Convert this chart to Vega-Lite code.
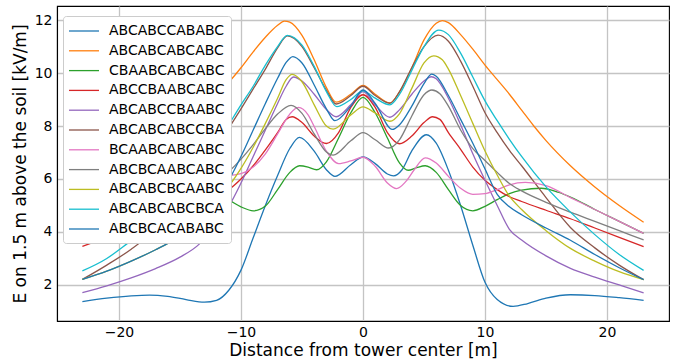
{
  "$schema": "https://vega.github.io/schema/vega-lite/v6.json",
  "width": 612,
  "height": 315,
  "autosize": {"type": "none"},
  "padding": {"left": 57, "top": 6, "right": 13, "bottom": 41},
  "background": "white",
  "config": {
    "font": "DejaVu Sans",
    "view": {"stroke": "black", "strokeWidth": 1.1},
    "axis": {
      "labelFont": "DejaVu Sans", "titleFont": "DejaVu Sans",
      "labelFontSize": 14, "titleFontSize": 17, "titleFontWeight": "normal",
      "labelColor": "black", "titleColor": "black",
      "domainColor": "black", "domainWidth": 1.1,
      "ticks": false, "grid": true, "gridColor": "#c4c4c4", "gridWidth": 1.3
    }
  },
  "data": {"values": [
    {"s":"ABCABCCABABC","x":-23,"y":1.37},{"s":"ABCABCCABABC","x":-21,"y":1.5},{"s":"ABCABCCABABC","x":-19,"y":1.59},{"s":"ABCABCCABABC","x":-17.5,"y":1.62},{"s":"ABCABCCABABC","x":-16,"y":1.57},{"s":"ABCABCCABABC","x":-14.5,"y":1.45},{"s":"ABCABCCABABC","x":-13,"y":1.35},{"s":"ABCABCCABABC","x":-12,"y":1.42},{"s":"ABCABCCABABC","x":-11,"y":1.8},{"s":"ABCABCCABABC","x":-10,"y":2.56},{"s":"ABCABCCABABC","x":-9,"y":3.78},{"s":"ABCABCCABABC","x":-8,"y":5.0},{"s":"ABCABCCABABC","x":-7,"y":6.13},{"s":"ABCABCCABABC","x":-6,"y":7.15},{"s":"ABCABCCABABC","x":-5.2,"y":7.57},{"s":"ABCABCCABABC","x":-4,"y":7.05},{"s":"ABCABCCABABC","x":-3,"y":6.35},{"s":"ABCABCCABABC","x":-2.3,"y":6.1},{"s":"ABCABCCABABC","x":-1,"y":6.54},{"s":"ABCABCCABABC","x":0,"y":6.83},{"s":"ABCABCCABABC","x":1,"y":6.58},{"s":"ABCABCCABABC","x":2,"y":6.19},{"s":"ABCABCCABABC","x":2.5,"y":6.12},{"s":"ABCABCCABABC","x":3.2,"y":6.35},{"s":"ABCABCCABABC","x":4,"y":7.06},{"s":"ABCABCCABABC","x":5.2,"y":7.67},{"s":"ABCABCCABABC","x":6,"y":7.35},{"s":"ABCABCCABABC","x":7,"y":6.33},{"s":"ABCABCCABABC","x":8,"y":5.0},{"s":"ABCABCCABABC","x":9,"y":3.5},{"s":"ABCABCCABABC","x":10,"y":2.1},{"s":"ABCABCCABABC","x":11,"y":1.45},{"s":"ABCABCCABABC","x":12.3,"y":1.19},{"s":"ABCABCCABABC","x":13.5,"y":1.3},{"s":"ABCABCCABABC","x":15,"y":1.5},{"s":"ABCABCCABABC","x":17,"y":1.63},{"s":"ABCABCCABABC","x":19,"y":1.6},{"s":"ABCABCCABABC","x":21,"y":1.52},{"s":"ABCABCCABABC","x":23,"y":1.42},

    {"s":"ABCABCABCABC","x":-23,"y":4.37},{"s":"ABCABCABCABC","x":-21,"y":5.0},{"s":"ABCABCABCABC","x":-19,"y":5.7},{"s":"ABCABCABCABC","x":-17,"y":6.5},{"s":"ABCABCABCABC","x":-15,"y":7.45},{"s":"ABCABCABCABC","x":-13,"y":8.6},{"s":"ABCABCABCABC","x":-12,"y":9.15},{"s":"ABCABCABCABC","x":-11,"y":9.65},{"s":"ABCABCABCABC","x":-10,"y":10.2},{"s":"ABCABCABCABC","x":-9,"y":10.8},{"s":"ABCABCABCABC","x":-8,"y":11.35},{"s":"ABCABCABCABC","x":-7,"y":11.8},{"s":"ABCABCABCABC","x":-6.45,"y":11.96},{"s":"ABCABCABCABC","x":-6,"y":11.92},{"s":"ABCABCABCABC","x":-5,"y":11.42},{"s":"ABCABCABCABC","x":-4,"y":10.5},{"s":"ABCABCABCABC","x":-3,"y":9.45},{"s":"ABCABCABCABC","x":-2.2,"y":8.9},{"s":"ABCABCABCABC","x":-1,"y":9.2},{"s":"ABCABCABCABC","x":0,"y":9.53},{"s":"ABCABCABCABC","x":1,"y":9.2},{"s":"ABCABCABCABC","x":2.2,"y":8.87},{"s":"ABCABCABCABC","x":3,"y":9.3},{"s":"ABCABCABCABC","x":4,"y":10.2},{"s":"ABCABCABCABC","x":5,"y":11.25},{"s":"ABCABCABCABC","x":6,"y":11.88},{"s":"ABCABCABCABC","x":6.5,"y":11.98},{"s":"ABCABCABCABC","x":7,"y":11.9},{"s":"ABCABCABCABC","x":8,"y":11.45},{"s":"ABCABCABCABC","x":9,"y":10.9},{"s":"ABCABCABCABC","x":10,"y":10.3},{"s":"ABCABCABCABC","x":11,"y":9.75},{"s":"ABCABCABCABC","x":12,"y":9.2},{"s":"ABCABCABCABC","x":13,"y":8.6},{"s":"ABCABCABCABC","x":14,"y":8.0},{"s":"ABCABCABCABC","x":15,"y":7.45},{"s":"ABCABCABCABC","x":17,"y":6.5},{"s":"ABCABCABCABC","x":19,"y":5.7},{"s":"ABCABCABCABC","x":21,"y":5.0},{"s":"ABCABCABCABC","x":23,"y":4.37},

    {"s":"CBAABCABCABC","x":-23,"y":3.95},{"s":"CBAABCABCABC","x":-21,"y":4.5},{"s":"CBAABCABCABC","x":-19,"y":5.05},{"s":"CBAABCABCABC","x":-17,"y":5.45},{"s":"CBAABCABCABC","x":-15,"y":5.62},{"s":"CBAABCABCABC","x":-13.5,"y":5.55},{"s":"CBAABCABCABC","x":-12,"y":5.35},{"s":"CBAABCABCABC","x":-11,"y":5.2},{"s":"CBAABCABCABC","x":-10,"y":4.95},{"s":"CBAABCABCABC","x":-9,"y":4.8},{"s":"CBAABCABCABC","x":-8,"y":4.98},{"s":"CBAABCABCABC","x":-7,"y":5.6},{"s":"CBAABCABCABC","x":-6,"y":6.25},{"s":"CBAABCABCABC","x":-5.2,"y":6.5},{"s":"CBAABCABCABC","x":-4.5,"y":6.45},{"s":"CBAABCABCABC","x":-3.8,"y":6.35},{"s":"CBAABCABCABC","x":-3,"y":6.65},{"s":"CBAABCABCABC","x":-2,"y":7.55},{"s":"CBAABCABCABC","x":-1,"y":8.5},{"s":"CBAABCABCABC","x":0,"y":9.08},{"s":"CBAABCABCABC","x":1,"y":8.5},{"s":"CBAABCABCABC","x":2,"y":7.55},{"s":"CBAABCABCABC","x":3,"y":6.6},{"s":"CBAABCABCABC","x":3.7,"y":6.33},{"s":"CBAABCABCABC","x":4.4,"y":6.43},{"s":"CBAABCABCABC","x":5.1,"y":6.5},{"s":"CBAABCABCABC","x":6,"y":6.25},{"s":"CBAABCABCABC","x":7,"y":5.6},{"s":"CBAABCABCABC","x":8,"y":5.0},{"s":"CBAABCABCABC","x":9,"y":4.8},{"s":"CBAABCABCABC","x":10,"y":4.97},{"s":"CBAABCABCABC","x":11,"y":5.22},{"s":"CBAABCABCABC","x":12,"y":5.45},{"s":"CBAABCABCABC","x":13,"y":5.58},{"s":"CBAABCABCABC","x":14.6,"y":5.65},{"s":"CBAABCABCABC","x":16,"y":5.5},{"s":"CBAABCABCABC","x":17,"y":5.32},{"s":"CBAABCABCABC","x":19,"y":4.85},{"s":"CBAABCABCABC","x":21,"y":4.4},{"s":"CBAABCABCABC","x":23,"y":3.95},

    {"s":"ABCCBAABCABC","x":-23,"y":3.46},{"s":"ABCCBAABCABC","x":-21,"y":3.8},{"s":"ABCCBAABCABC","x":-19,"y":4.15},{"s":"ABCCBAABCABC","x":-17,"y":4.5},{"s":"ABCCBAABCABC","x":-15,"y":4.8},{"s":"ABCCBAABCABC","x":-13,"y":5.15},{"s":"ABCCBAABCABC","x":-12,"y":5.35},{"s":"ABCCBAABCABC","x":-11,"y":5.6},{"s":"ABCCBAABCABC","x":-10,"y":6.0},{"s":"ABCCBAABCABC","x":-9,"y":6.5},{"s":"ABCCBAABCABC","x":-8,"y":7.1},{"s":"ABCCBAABCABC","x":-7,"y":7.75},{"s":"ABCCBAABCABC","x":-6.3,"y":8.25},{"s":"ABCCBAABCABC","x":-5.8,"y":8.35},{"s":"ABCCBAABCABC","x":-5,"y":8.13},{"s":"ABCCBAABCABC","x":-4,"y":7.62},{"s":"ABCCBAABCABC","x":-3,"y":7.34},{"s":"ABCCBAABCABC","x":-2,"y":7.75},{"s":"ABCCBAABCABC","x":-1,"y":8.7},{"s":"ABCCBAABCABC","x":0,"y":9.18},{"s":"ABCCBAABCABC","x":1,"y":8.7},{"s":"ABCCBAABCABC","x":2,"y":7.75},{"s":"ABCCBAABCABC","x":3,"y":7.33},{"s":"ABCCBAABCABC","x":4,"y":7.62},{"s":"ABCCBAABCABC","x":5,"y":8.13},{"s":"ABCCBAABCABC","x":5.7,"y":8.35},{"s":"ABCCBAABCABC","x":6.3,"y":8.25},{"s":"ABCCBAABCABC","x":7,"y":7.75},{"s":"ABCCBAABCABC","x":8,"y":7.12},{"s":"ABCCBAABCABC","x":9,"y":6.45},{"s":"ABCCBAABCABC","x":10,"y":5.95},{"s":"ABCCBAABCABC","x":11,"y":5.6},{"s":"ABCCBAABCABC","x":12,"y":5.33},{"s":"ABCCBAABCABC","x":13,"y":5.15},{"s":"ABCCBAABCABC","x":15,"y":4.82},{"s":"ABCCBAABCABC","x":17,"y":4.5},{"s":"ABCCBAABCABC","x":19,"y":4.15},{"s":"ABCCBAABCABC","x":21,"y":3.8},{"s":"ABCCBAABCABC","x":23,"y":3.45},

    {"s":"ABCABCCBAABC","x":-23,"y":1.71},{"s":"ABCABCCBAABC","x":-21,"y":1.97},{"s":"ABCABCCBAABC","x":-19,"y":2.27},{"s":"ABCABCCBAABC","x":-17,"y":2.62},{"s":"ABCABCCBAABC","x":-15,"y":3.05},{"s":"ABCABCCBAABC","x":-13.4,"y":3.55},{"s":"ABCABCCBAABC","x":-12,"y":4.35},{"s":"ABCABCCBAABC","x":-11,"y":4.97},{"s":"ABCABCCBAABC","x":-10,"y":5.85},{"s":"ABCABCCBAABC","x":-9,"y":6.85},{"s":"ABCABCCBAABC","x":-8,"y":7.85},{"s":"ABCABCCBAABC","x":-7,"y":8.85},{"s":"ABCABCCBAABC","x":-6.3,"y":9.5},{"s":"ABCABCCBAABC","x":-5.7,"y":9.85},{"s":"ABCABCCBAABC","x":-5,"y":9.7},{"s":"ABCABCCBAABC","x":-4,"y":9.2},{"s":"ABCABCCBAABC","x":-3,"y":8.62},{"s":"ABCABCCBAABC","x":-2.2,"y":8.35},{"s":"ABCABCCBAABC","x":-1,"y":8.8},{"s":"ABCABCCBAABC","x":0,"y":9.3},{"s":"ABCABCCBAABC","x":1,"y":8.8},{"s":"ABCABCCBAABC","x":2.2,"y":8.33},{"s":"ABCABCCBAABC","x":3,"y":8.62},{"s":"ABCABCCBAABC","x":4,"y":9.2},{"s":"ABCABCCBAABC","x":5,"y":9.7},{"s":"ABCABCCBAABC","x":5.6,"y":9.86},{"s":"ABCABCCBAABC","x":6,"y":9.78},{"s":"ABCABCCBAABC","x":7,"y":9.05},{"s":"ABCABCCBAABC","x":8,"y":8.05},{"s":"ABCABCCBAABC","x":9,"y":6.95},{"s":"ABCABCCBAABC","x":10,"y":5.95},{"s":"ABCABCCBAABC","x":11,"y":5.0},{"s":"ABCABCCBAABC","x":12,"y":4.1},{"s":"ABCABCCBAABC","x":13,"y":3.7},{"s":"ABCABCCBAABC","x":15,"y":3.1},{"s":"ABCABCCBAABC","x":17,"y":2.63},{"s":"ABCABCCBAABC","x":19,"y":2.3},{"s":"ABCABCCBAABC","x":21,"y":2.0},{"s":"ABCABCCBAABC","x":23,"y":1.7},

    {"s":"ABCABCABCCBA","x":-23,"y":2.21},{"s":"ABCABCABCCBA","x":-21,"y":2.75},{"s":"ABCABCABCCBA","x":-19,"y":3.35},{"s":"ABCABCABCCBA","x":-17,"y":4.1},{"s":"ABCABCABCCBA","x":-15,"y":5.2},{"s":"ABCABCABCCBA","x":-13,"y":6.4},{"s":"ABCABCABCCBA","x":-12,"y":7.1},{"s":"ABCABCABCCBA","x":-11,"y":7.91},{"s":"ABCABCABCCBA","x":-10,"y":8.65},{"s":"ABCABCABCCBA","x":-9,"y":9.4},{"s":"ABCABCABCCBA","x":-8,"y":10.15},{"s":"ABCABCABCCBA","x":-7,"y":10.95},{"s":"ABCABCABCCBA","x":-6.2,"y":11.4},{"s":"ABCABCABCCBA","x":-5,"y":11.0},{"s":"ABCABCABCCBA","x":-4,"y":10.2},{"s":"ABCABCABCCBA","x":-3,"y":9.35},{"s":"ABCABCABCCBA","x":-2.2,"y":8.83},{"s":"ABCABCABCCBA","x":-1,"y":9.15},{"s":"ABCABCABCCBA","x":0,"y":9.5},{"s":"ABCABCABCCBA","x":1,"y":9.15},{"s":"ABCABCABCCBA","x":2.2,"y":8.86},{"s":"ABCABCABCCBA","x":3,"y":9.3},{"s":"ABCABCABCCBA","x":4,"y":10.2},{"s":"ABCABCABCCBA","x":5,"y":11.0},{"s":"ABCABCABCCBA","x":6.15,"y":11.43},{"s":"ABCABCABCCBA","x":7,"y":11.2},{"s":"ABCABCABCCBA","x":8,"y":10.45},{"s":"ABCABCABCCBA","x":9,"y":9.5},{"s":"ABCABCABCCBA","x":10,"y":8.5},{"s":"ABCABCABCCBA","x":11,"y":7.75},{"s":"ABCABCABCCBA","x":12,"y":7.08},{"s":"ABCABCABCCBA","x":13,"y":6.5},{"s":"ABCABCABCCBA","x":15,"y":5.3},{"s":"ABCABCABCCBA","x":17,"y":4.17},{"s":"ABCABCABCCBA","x":19,"y":3.4},{"s":"ABCABCABCCBA","x":21,"y":2.75},{"s":"ABCABCABCCBA","x":23,"y":2.2},

    {"s":"BCAABCABCABC","x":-23,"y":3.95},{"s":"BCAABCABCABC","x":-21,"y":4.45},{"s":"BCAABCABCABC","x":-19,"y":4.95},{"s":"BCAABCABCABC","x":-17,"y":5.45},{"s":"BCAABCABCABC","x":-15,"y":5.85},{"s":"BCAABCABCABC","x":-13,"y":6.1},{"s":"BCAABCABCABC","x":-12,"y":6.15},{"s":"BCAABCABCABC","x":-11,"y":6.14},{"s":"BCAABCABCABC","x":-10,"y":6.2},{"s":"BCAABCABCABC","x":-9,"y":6.45},{"s":"BCAABCABCABC","x":-8,"y":6.95},{"s":"BCAABCABCABC","x":-7,"y":7.7},{"s":"BCAABCABCABC","x":-6,"y":8.45},{"s":"BCAABCABCABC","x":-5.3,"y":8.7},{"s":"BCAABCABCABC","x":-4.5,"y":8.42},{"s":"BCAABCABCABC","x":-4,"y":7.98},{"s":"BCAABCABCABC","x":-3,"y":7.05},{"s":"BCAABCABCABC","x":-2,"y":6.58},{"s":"BCAABCABCABC","x":-1,"y":6.68},{"s":"BCAABCABCABC","x":0,"y":6.82},{"s":"BCAABCABCABC","x":1,"y":6.48},{"s":"BCAABCABCABC","x":2,"y":5.85},{"s":"BCAABCABCABC","x":2.75,"y":5.64},{"s":"BCAABCABCABC","x":3.5,"y":5.9},{"s":"BCAABCABCABC","x":4.2,"y":6.35},{"s":"BCAABCABCABC","x":5.1,"y":6.8},{"s":"BCAABCABCABC","x":6,"y":6.6},{"s":"BCAABCABCABC","x":7,"y":6.1},{"s":"BCAABCABCABC","x":8,"y":5.65},{"s":"BCAABCABCABC","x":9,"y":5.42},{"s":"BCAABCABCABC","x":10,"y":5.45},{"s":"BCAABCABCABC","x":11,"y":5.6},{"s":"BCAABCABCABC","x":12,"y":5.78},{"s":"BCAABCABCABC","x":13.3,"y":5.87},{"s":"BCAABCABCABC","x":15,"y":5.75},{"s":"BCAABCABCABC","x":17,"y":5.3},{"s":"BCAABCABCABC","x":19,"y":4.85},{"s":"BCAABCABCABC","x":21,"y":4.4},{"s":"BCAABCABCABC","x":23,"y":3.95},

    {"s":"ABCBCAABCABC","x":-23,"y":3.7},{"s":"ABCBCAABCABC","x":-21,"y":4.05},{"s":"ABCBCAABCABC","x":-19,"y":4.4},{"s":"ABCBCAABCABC","x":-17,"y":4.75},{"s":"ABCBCAABCABC","x":-15,"y":5.15},{"s":"ABCBCAABCABC","x":-13,"y":5.65},{"s":"ABCBCAABCABC","x":-12,"y":5.95},{"s":"ABCBCAABCABC","x":-11,"y":6.28},{"s":"ABCBCAABCABC","x":-10,"y":6.75},{"s":"ABCBCAABCABC","x":-9,"y":7.3},{"s":"ABCBCAABCABC","x":-8,"y":7.9},{"s":"ABCBCAABCABC","x":-7,"y":8.45},{"s":"ABCBCAABCABC","x":-5.9,"y":8.78},{"s":"ABCBCAABCABC","x":-5,"y":8.48},{"s":"ABCBCAABCABC","x":-4,"y":7.7},{"s":"ABCBCAABCABC","x":-3,"y":7.02},{"s":"ABCBCAABCABC","x":-2.45,"y":6.9},{"s":"ABCBCAABCABC","x":-1,"y":7.44},{"s":"ABCBCAABCABC","x":0,"y":7.75},{"s":"ABCBCAABCABC","x":1,"y":7.48},{"s":"ABCBCAABCABC","x":2.1,"y":7.17},{"s":"ABCBCAABCABC","x":3,"y":7.49},{"s":"ABCBCAABCABC","x":4,"y":8.38},{"s":"ABCBCAABCABC","x":5,"y":9.18},{"s":"ABCBCAABCABC","x":5.65,"y":9.36},{"s":"ABCBCAABCABC","x":6.3,"y":9.22},{"s":"ABCBCAABCABC","x":7,"y":8.75},{"s":"ABCBCAABCABC","x":8,"y":7.85},{"s":"ABCBCAABCABC","x":9,"y":7.15},{"s":"ABCBCAABCABC","x":10,"y":6.7},{"s":"ABCBCAABCABC","x":11,"y":6.25},{"s":"ABCBCAABCABC","x":12,"y":5.83},{"s":"ABCBCAABCABC","x":13,"y":5.55},{"s":"ABCBCAABCABC","x":15,"y":5.12},{"s":"ABCBCAABCABC","x":17,"y":4.75},{"s":"ABCBCAABCABC","x":19,"y":4.4},{"s":"ABCBCAABCABC","x":21,"y":4.05},{"s":"ABCBCAABCABC","x":23,"y":3.7},

    {"s":"ABCABCBCAABC","x":-23,"y":2.21},{"s":"ABCABCBCAABC","x":-21,"y":2.52},{"s":"ABCABCBCAABC","x":-19,"y":2.9},{"s":"ABCABCBCAABC","x":-17,"y":3.33},{"s":"ABCABCBCAABC","x":-16,"y":3.57},{"s":"ABCABCBCAABC","x":-15,"y":3.85},{"s":"ABCABCBCAABC","x":-13,"y":4.6},{"s":"ABCABCBCAABC","x":-12,"y":5.1},{"s":"ABCABCBCAABC","x":-11,"y":5.72},{"s":"ABCABCBCAABC","x":-10,"y":6.4},{"s":"ABCABCBCAABC","x":-9,"y":7.2},{"s":"ABCABCBCAABC","x":-8,"y":8.1},{"s":"ABCABCBCAABC","x":-7,"y":9.05},{"s":"ABCABCBCAABC","x":-6.3,"y":9.75},{"s":"ABCABCBCAABC","x":-5.8,"y":9.95},{"s":"ABCABCBCAABC","x":-5,"y":9.67},{"s":"ABCABCBCAABC","x":-4,"y":8.8},{"s":"ABCABCBCAABC","x":-3,"y":8.0},{"s":"ABCABCBCAABC","x":-2.45,"y":7.88},{"s":"ABCABCBCAABC","x":-1,"y":8.42},{"s":"ABCABCBCAABC","x":0,"y":8.72},{"s":"ABCABCBCAABC","x":1,"y":8.49},{"s":"ABCABCBCAABC","x":2.2,"y":8.18},{"s":"ABCABCBCAABC","x":3,"y":8.47},{"s":"ABCABCBCAABC","x":4,"y":9.42},{"s":"ABCABCBCAABC","x":5,"y":10.38},{"s":"ABCABCBCAABC","x":5.8,"y":10.65},{"s":"ABCABCBCAABC","x":6.5,"y":10.5},{"s":"ABCABCBCAABC","x":7,"y":10.15},{"s":"ABCABCBCAABC","x":8,"y":9.15},{"s":"ABCABCBCAABC","x":9,"y":8.1},{"s":"ABCABCBCAABC","x":10,"y":7.06},{"s":"ABCABCBCAABC","x":11,"y":6.15},{"s":"ABCABCBCAABC","x":12,"y":5.35},{"s":"ABCABCBCAABC","x":13,"y":4.85},{"s":"ABCABCBCAABC","x":15,"y":4.05},{"s":"ABCABCBCAABC","x":17,"y":3.38},{"s":"ABCABCBCAABC","x":19,"y":2.9},{"s":"ABCABCBCAABC","x":21,"y":2.5},{"s":"ABCABCBCAABC","x":23,"y":2.2},

    {"s":"ABCABCABCBCA","x":-23,"y":2.53},{"s":"ABCABCABCBCA","x":-21,"y":3.0},{"s":"ABCABCABCBCA","x":-19.3,"y":3.57},{"s":"ABCABCABCBCA","x":-17,"y":4.4},{"s":"ABCABCABCBCA","x":-15,"y":5.35},{"s":"ABCABCABCBCA","x":-13,"y":6.6},{"s":"ABCABCABCBCA","x":-12,"y":7.3},{"s":"ABCABCABCBCA","x":-11,"y":8.05},{"s":"ABCABCABCBCA","x":-10,"y":8.8},{"s":"ABCABCABCBCA","x":-9,"y":9.5},{"s":"ABCABCABCBCA","x":-8,"y":10.3},{"s":"ABCABCABCBCA","x":-7,"y":11.0},{"s":"ABCABCABCBCA","x":-6.2,"y":11.42},{"s":"ABCABCABCBCA","x":-5,"y":11.05},{"s":"ABCABCABCBCA","x":-4,"y":10.25},{"s":"ABCABCABCBCA","x":-3,"y":9.3},{"s":"ABCABCABCBCA","x":-2.15,"y":8.73},{"s":"ABCABCABCBCA","x":-1,"y":9.0},{"s":"ABCABCABCBCA","x":0,"y":9.33},{"s":"ABCABCABCBCA","x":1,"y":9.05},{"s":"ABCABCABCBCA","x":2.2,"y":8.8},{"s":"ABCABCABCBCA","x":3,"y":9.2},{"s":"ABCABCABCBCA","x":4,"y":10.1},{"s":"ABCABCABCBCA","x":5,"y":11.0},{"s":"ABCABCABCBCA","x":6.2,"y":11.62},{"s":"ABCABCABCBCA","x":7,"y":11.45},{"s":"ABCABCABCBCA","x":8,"y":10.75},{"s":"ABCABCABCBCA","x":9,"y":9.85},{"s":"ABCABCABCBCA","x":10,"y":8.95},{"s":"ABCABCABCBCA","x":11,"y":8.2},{"s":"ABCABCABCBCA","x":12,"y":7.5},{"s":"ABCABCABCBCA","x":13,"y":6.85},{"s":"ABCABCABCBCA","x":15,"y":5.7},{"s":"ABCABCABCBCA","x":17,"y":4.75},{"s":"ABCABCABCBCA","x":19,"y":3.9},{"s":"ABCABCABCBCA","x":21,"y":3.15},{"s":"ABCABCABCBCA","x":23,"y":2.55},

    {"s":"ABCBCACABABC","x":-23,"y":2.21},{"s":"ABCBCACABABC","x":-21,"y":2.52},{"s":"ABCBCACABABC","x":-19,"y":2.9},{"s":"ABCBCACABABC","x":-17,"y":3.33},{"s":"ABCBCACABABC","x":-16,"y":3.57},{"s":"ABCBCACABABC","x":-15,"y":3.9},{"s":"ABCBCACABABC","x":-13,"y":4.7},{"s":"ABCBCACABABC","x":-12,"y":5.25},{"s":"ABCBCACABABC","x":-11,"y":5.95},{"s":"ABCBCACABABC","x":-10,"y":6.85},{"s":"ABCBCACABABC","x":-9,"y":7.85},{"s":"ABCBCACABABC","x":-8,"y":8.85},{"s":"ABCBCACABABC","x":-7,"y":9.8},{"s":"ABCBCACABABC","x":-6.3,"y":10.4},{"s":"ABCBCACABABC","x":-5.75,"y":10.62},{"s":"ABCBCACABABC","x":-5,"y":10.38},{"s":"ABCBCACABABC","x":-4,"y":9.55},{"s":"ABCBCACABABC","x":-3,"y":8.65},{"s":"ABCBCACABABC","x":-2.3,"y":8.2},{"s":"ABCBCACABABC","x":-1,"y":8.75},{"s":"ABCBCACABABC","x":0,"y":9.36},{"s":"ABCBCACABABC","x":1,"y":8.85},{"s":"ABCBCACABABC","x":2.4,"y":7.87},{"s":"ABCBCACABABC","x":3,"y":8.05},{"s":"ABCBCACABABC","x":4,"y":8.75},{"s":"ABCBCACABABC","x":5,"y":9.6},{"s":"ABCBCACABABC","x":5.62,"y":9.96},{"s":"ABCBCACABABC","x":6,"y":9.88},{"s":"ABCBCACABABC","x":7,"y":9.15},{"s":"ABCBCACABABC","x":8,"y":8.25},{"s":"ABCBCACABABC","x":9,"y":7.35},{"s":"ABCBCACABABC","x":10,"y":6.38},{"s":"ABCBCACABABC","x":11,"y":5.42},{"s":"ABCBCACABABC","x":12,"y":4.95},{"s":"ABCBCACABABC","x":13,"y":4.65},{"s":"ABCBCACABABC","x":15,"y":4.15},{"s":"ABCBCACABABC","x":17,"y":3.69},{"s":"ABCBCACABABC","x":19,"y":3.15},{"s":"ABCBCACABABC","x":21,"y":2.65},{"s":"ABCBCACABABC","x":23,"y":2.2}
  ]},
  "mark": {"type": "line", "interpolate": "monotone", "strokeWidth": 1.3},
  "encoding": {
    "x": {"field": "x", "type": "quantitative",
      "scale": {"domain": [-25.08, 25.08], "nice": false, "zero": false},
      "axis": {"values": [-20, -10, 0, 10, 20], "title": "Distance from tower center [m]", "labelPadding": 4, "titlePadding": 3}},
    "y": {"field": "y", "type": "quantitative",
      "scale": {"domain": [0.64, 12.53], "nice": false, "zero": false},
      "axis": {"values": [2, 4, 6, 8, 10, 12], "title": "E on 1.5 m above the soil [kV/m]", "labelPadding": 5, "titlePadding": 5}},
    "color": {"field": "s", "type": "nominal",
      "scale": {
        "domain": ["ABCABCCABABC","ABCABCABCABC","CBAABCABCABC","ABCCBAABCABC","ABCABCCBAABC","ABCABCABCCBA","BCAABCABCABC","ABCBCAABCABC","ABCABCBCAABC","ABCABCABCBCA","ABCBCACABABC"],
        "range": ["#1f77b4","#ff7f0e","#2ca02c","#d62728","#9467bd","#8c564b","#e377c2","#7f7f7f","#bcbd22","#17becf","#1f77b4"]
      },
      "legend": {
        "title": null, "orient": "none", "legendX": 6, "legendY": 10,
        "symbolType": "M-1.125,0H2.625", "symbolSize": 256, "symbolStrokeWidth": 1.3,
        "labelFontSize": 14, "labelFont": "DejaVu Sans", "labelColor": "black", "labelOffset": 22,
        "fillColor": "white", "strokeColor": "#cccccc", "cornerRadius": 3,
        "padding": 6, "rowPadding": 3.8, "labelLimit": 300
      }
    }
  }
}
